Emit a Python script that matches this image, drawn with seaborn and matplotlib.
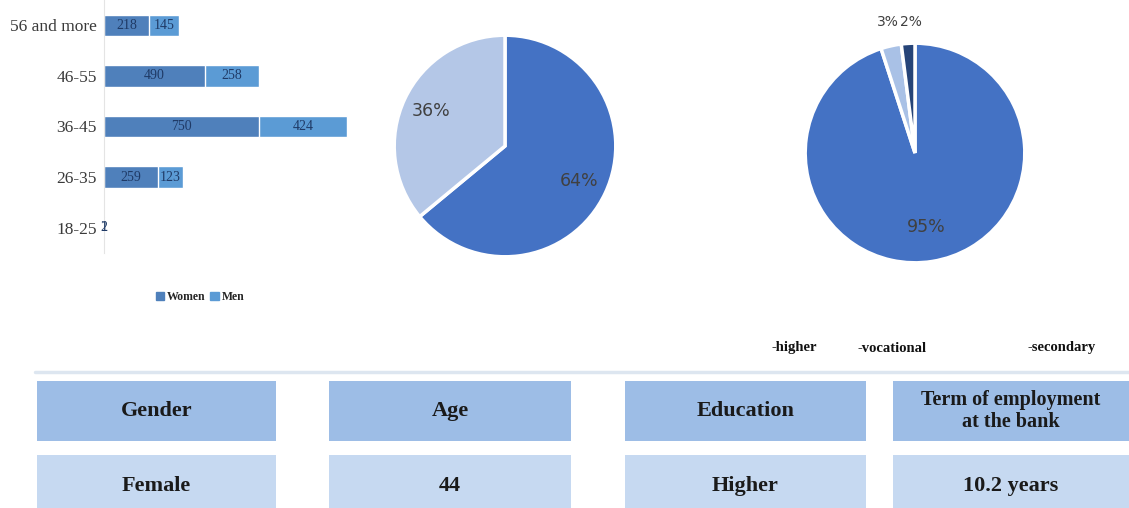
import matplotlib
matplotlib.use("Agg")
import matplotlib.pyplot as plt
from matplotlib.patches import Rectangle, Patch
import seaborn as sns
import pandas as pd
import numpy as np

# ---------------- data ----------------
age_groups = ["56 and more", "46-55", "36-45", "26-35", "18-25"]
women = [218, 490, 750, 259, 2]
men = [145, 258, 424, 123, 1]

gender_labels = ["Women", "Men"]
gender_share = [64, 36]

education_labels = ["higher", "vocational", "secondary"]
education_share = [95, 3, 2]

table_headers = ["Gender", "Age", "Education", "Term of employment\nat the bank"]
table_values = ["Female", "44", "Higher", "10.2 years"]

# ---------------- style ----------------
sns.set_theme(style="white")
plt.rcParams["font.family"] = ["DejaVu Sans"]

W, H = 1129, 508
fig = plt.figure(figsize=(W / 100, H / 100), dpi=100)
fig.patch.set_facecolor("white")


def rect(x0, y0, x1, y1):
    return [x0 / W, 1 - y1 / H, (x1 - x0) / W, (y1 - y0) / H]


women_color = "#4f80bb"
men_color = "#5b9bd5"
serif = "Liberation Serif"

# ---------------- bar chart ----------------
ax_bar = fig.add_axes(rect(104, 0, 383, 253))
df = pd.DataFrame({"age": age_groups, "Women": women, "Men": men})
df["total"] = df["Women"] + df["Men"]
sns.barplot(data=df, y="age", x="total", color=men_color, orient="h",
            width=0.42, saturation=1, ax=ax_bar)
sns.barplot(data=df, y="age", x="Women", color=women_color, orient="h",
            width=0.42, saturation=1, ax=ax_bar)
ax_bar.set_xlim(0, 1350)
ax_bar.set_xlabel("")
ax_bar.set_ylabel("")
ax_bar.set_xticks([])
for s in ["top", "right", "bottom"]:
    ax_bar.spines[s].set_visible(False)
ax_bar.spines["left"].set_color("#e4e4e4")
ax_bar.spines["left"].set_linewidth(0.8)
ax_bar.tick_params(axis="y", length=0, pad=5)
for lab in ax_bar.get_yticklabels():
    lab.set_fontfamily(serif)
    lab.set_fontsize(12.5)
    lab.set_color("#3a3a3a")
for i, (w, m) in enumerate(zip(women, men)):
    ax_bar.text(w / 2, i, str(w), ha="center", va="center", fontsize=10,
                family=serif, color="#1f3a66")
    ax_bar.text(w + m / 2, i, str(m), ha="center", va="center", fontsize=10,
                family=serif, color="#1f3a66")

fig.legend(handles=[Patch(color=women_color, label="Women"),
                    Patch(color=men_color, label="Men")],
           loc="center", bbox_to_anchor=(200 / W, 1 - 297 / H), ncol=2,
           frameon=False, prop={"family": serif, "weight": "bold", "size": 8.5},
           handlelength=0.7, handleheight=0.7, handletextpad=0.25,
           columnspacing=0.4)

# ---------------- pie 1: gender ----------------
cx, cy, r = 505, 146, 113
ax_p1 = fig.add_axes(rect(cx - r, cy - r, cx + r, cy + r))
ax_p1.pie(gender_share, colors=["#4472c4", "#b4c7e7"], startangle=90,
          counterclock=False, autopct="%d%%", pctdistance=0.74,
          wedgeprops=dict(edgecolor="white", linewidth=2.5),
          textprops=dict(color="#404040", fontsize=12.5))
ax_p1.set_aspect("equal")
ax_p1.set_xlim(-1.02, 1.02)
ax_p1.set_ylim(-1.02, 1.02)

# ---------------- pie 2: education ----------------
cx, cy, r = 915, 153, 112
ax_p2 = fig.add_axes(rect(cx - r, cy - r, cx + r, cy + r))
wedges, _, autotexts = ax_p2.pie(
    education_share, colors=["#4472c4", "#a9c1e6", "#264478"], startangle=90,
    counterclock=False, autopct="%d%%", pctdistance=0.68,
    wedgeprops=dict(edgecolor="white", linewidth=2.5),
    textprops=dict(color="#404040", fontsize=12.5))
# small-slice labels sit above the pie, either side of the shared edge
split = np.deg2rad(wedges[1].theta1)
for t, ha, dx in zip(autotexts[1:], ["right", "left"], [0.0, 0.01]):
    t.set_position((1.19 * np.cos(split) + dx, 1.19))
    t.set_horizontalalignment(ha)
    t.set_fontsize(10)
ax_p2.set_aspect("equal")
ax_p2.set_xlim(-1.02, 1.02)
ax_p2.set_ylim(-1.02, 1.02)

# education legend
leg_x = [771, 858, 1028]
for x, lab in zip(leg_x, education_labels):
    fig.text(x / W, 1 - 348 / H, "-" + lab, ha="left", va="center",
             fontsize=10.5, family=serif, weight="bold", color="#111111")

# separator line
fig.add_artist(plt.Line2D([35 / W, 1.0], [1 - 372 / H, 1 - 372 / H],
                          color="#dde6f0", linewidth=2.5))

# ---------------- summary table ----------------
cols = [(37, 276), (329, 571), (625, 866), (893, 1129)]
for (x0, x1), hd, val in zip(cols, table_headers, table_values):
    fig.add_artist(Rectangle((x0 / W, 1 - 441 / H), (x1 - x0) / W, 60 / H,
                             facecolor="#9dbde6", edgecolor="none"))
    fig.add_artist(Rectangle((x0 / W, 0), (x1 - x0) / W, 53 / H,
                             facecolor="#c6d9f1", edgecolor="none"))
    fs = 14.5 if "\n" in hd else 16
    fig.text((x0 + x1) / 2 / W, 1 - 411 / H, hd, ha="center", va="center",
             fontsize=fs, family=serif, weight="bold", color="#1a1a1a",
             linespacing=1.15)
    fig.text((x0 + x1) / 2 / W, 1 - 486 / H, val, ha="center", va="center",
             fontsize=16, family=serif, weight="bold", color="#1a1a1a")

fig.savefig("out.png", dpi=100)
